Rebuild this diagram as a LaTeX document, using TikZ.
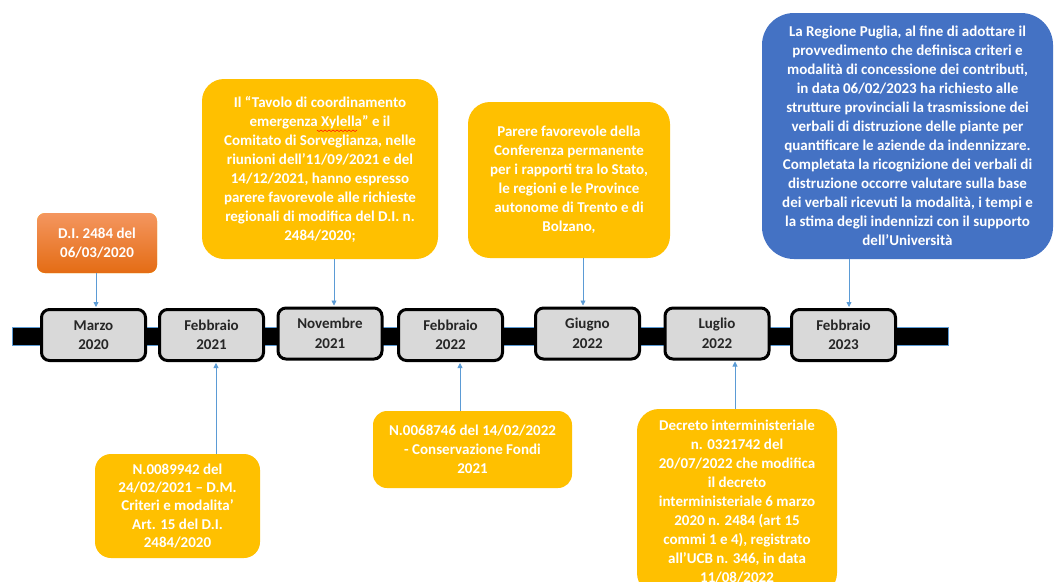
\documentclass[tikz,border=0pt]{standalone}
\usepackage{fontspec}
\setmainfont{Carlito}
\usetikzlibrary{arrows.meta}
\definecolor{yel}{RGB}{255,192,0}
\definecolor{blu}{RGB}{68,114,196}
\definecolor{datefill}{RGB}{217,217,217}
\definecolor{arrblue}{RGB}{91,155,213}
\definecolor{orgtop}{RGB}{244,150,95}
\definecolor{orgbot}{RGB}{228,108,20}
\begin{document}
\begin{tikzpicture}[x=1pt,y=-1pt,
  datebox/.style={draw=black, line width=3pt, fill=datefill, rounded corners=8pt,
    minimum width=104pt, minimum height=51pt, inner sep=0pt, align=center,
    text=black!85, font=\bfseries\fontsize{15}{19.5}\selectfont},
  notebox/.style={fill=yel, rounded corners=18pt, inner sep=0pt, align=center,
    text=white, font=\bfseries\fontsize{15}{19}\selectfont},
  arr/.style={draw=arrblue, line width=0.8pt, -{Triangle[length=5pt,width=5pt]}, shorten >=1pt}]
\useasboundingbox (0,0) rectangle (1054,581);
\clip (0,0) rectangle (1054,581);
\fill[white] (0,0) rectangle (1054,581);
% timeline bar
\draw[fill=black, draw=arrblue, line width=0.8pt] (12,327) rectangle (948,345);
% date boxes
\node[datebox] (mar)   at (93.5,335)  {Marzo\\2020};
\node[datebox] (feb21) at (211.5,335) {Febbraio\\2021};
\node[datebox] (nov)   at (330,333.5) {Novembre\\2021};
\node[datebox] (feb22) at (450.5,335) {Febbraio\\2022};
\node[datebox] (giu)   at (587.5,333.5) {Giugno\\2022};
\node[datebox] (lug)   at (717,333.5) {Luglio\\2022};
\node[datebox] (feb23) at (843.5,335) {Febbraio\\2023};
% upper notes
\node[notebox, rounded corners=8pt, top color=orgtop, bottom color=orgbot,
  minimum width=120pt, minimum height=60pt] (di) at (97,243) {D.I. 2484 del\\06/03/2020};
\node[notebox, rounded corners=22pt, minimum width=236pt, minimum height=180pt] (tav) at (320,169)
  {Il “Tavolo di coordinamento\\emergenza Xylella” e il\\Comitato di Sorveglianza, nelle\\riunioni dell’11/09/2021 e del\\14/12/2021, hanno espresso\\parere favorevole alle richieste\\regionali di modifica del D.I. n.\\2484/2020;};
\node[notebox, rounded corners=22pt, minimum width=202pt, minimum height=156pt] (par) at (569,180)
  {Parere favorevole della\\Conferenza permanente\\per i rapporti tra lo Stato,\\le regioni e le Province\\autonome di Trento e di\\Bolzano,};
\node[notebox, fill=blu, rounded corners=32pt, minimum width=291pt, minimum height=246pt] (reg) at (907.5,136)
  {La Regione Puglia, al fine di adottare il\\provvedimento che definisca criteri e\\modalità di concessione dei contributi,\\in data 06/02/2023 ha richiesto alle\\strutture provinciali la trasmissione dei\\verbali di distruzione delle piante per\\quantificare le aziende da indennizzare.\\Completata la ricognizione dei verbali di\\distruzione occorre valutare sulla base\\dei verbali ricevuti la modalità, i tempi e\\la stima degli indennizzi con il supporto\\dell’Università};
% lower notes
\node[notebox, rounded corners=16pt, minimum width=165pt, minimum height=104pt,
  font=\bfseries\fontsize{15}{18.3}\selectfont] (n89) at (177.5,506)
  {N.0089942 del\\24/02/2021 – D.M.\\Criteri e modalita’\\Art. 15 del D.I.\\2484/2020};
\node[notebox, rounded corners=14pt, minimum width=199pt, minimum height=77pt] (n68) at (472.5,449.5)
  {N.0068746 del 14/02/2022\\- Conservazione Fondi\\2021};
\node[notebox, rounded corners=22pt, minimum width=200pt, minimum height=186pt] (dec) at (737,502)
  {Decreto interministeriale\\n. 0321742 del\\20/07/2022 che modifica\\il decreto\\interministeriale 6 marzo\\2020 n. 2484 (art 15\\commi 1 e 4), registrato\\all'UCB n. 346, in data\\11/08/2022};
% spell-check squiggle under Xylella
\draw[red, line width=0.5pt] (317,130) -- ++(2,1.5) -- ++(2,-1.5) -- ++(2,1.5) -- ++(2,-1.5) -- ++(2,1.5) -- ++(2,-1.5) -- ++(2,1.5) -- ++(2,-1.5) -- ++(2,1.5) -- ++(2,-1.5) -- ++(2,1.5) -- ++(2,-1.5) -- ++(2,1.5) -- ++(2,-1.5) -- ++(2,1.5) -- ++(2,-1.5) -- ++(2,1.5) -- ++(2,-1.5) -- ++(2,1.5) -- ++(2,-1.5);
% connectors
\draw[arr] (di.south -| 96,0) -- (mar.north -| 96,0);
\draw[arr] (tav.south -| 334,0) -- (nov.north -| 334,0);
\draw[arr] (par.south -| 583,0) -- (giu.north -| 583,0);
\draw[arr] (reg.south -| 849,0) -- (feb23.north -| 849,0);
\draw[arr] (n89.north -| 216,0) -- (feb21.south -| 216,0);
\draw[arr] (n68.north -| 460,0) -- (feb22.south -| 460,0);
\draw[arr] (dec.north -| 735,0) -- (lug.south -| 735,0);
\end{tikzpicture}
\end{document}
